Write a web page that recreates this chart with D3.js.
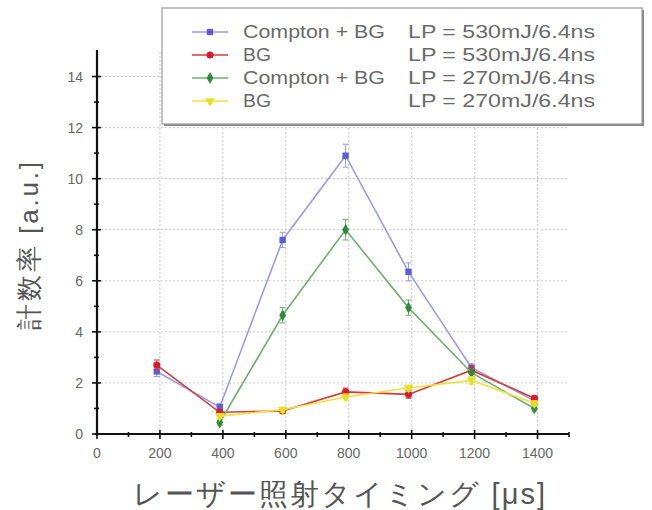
<!DOCTYPE html>
<html>
<head>
<meta charset="utf-8">
<script src="https://cdn.jsdelivr.net/npm/d3@7"></script>
<style>
  body { margin: 0; background: #fff; }
  svg { display: block; }
  text { font-family: "Liberation Sans", Arial, sans-serif; }
</style>
</head>
<body>
<svg id="chart" width="652" height="510"></svg>
<script>
// Laser timing (µs) at which each count was taken
const timings = [190, 390, 590, 790, 990, 1190, 1390];

// Count rates [a.u.] and their error bars
const comptonHigh = [2.45, 1.05, 7.6, 10.9, 6.35, 2.6, 1.3];
const comptonHighErr = [0.2, 0.15, 0.3, 0.45, 0.35, 0.15, 0.15];
const bgHigh = [2.7, 0.85, 0.9, 1.65, 1.55, 2.5, 1.4];
const bgHighErr = [0.2, 0.1, 0.1, 0.15, 0.15, 0.15, 0.1];
const comptonLow = [null, 0.45, 4.65, 8.0, 4.95, 2.4, 1.0];
const comptonLowErr = [0, 0.1, 0.3, 0.4, 0.3, 0.15, 0.1];
const bgLow = [null, 0.7, 0.95, 1.45, 1.8, 2.1, 1.2];
const bgLowErr = [0, 0.1, 0.1, 0.12, 0.12, 0.15, 0.1];

const xTicks = [0, 200, 400, 600, 800, 1000, 1200, 1400];
const yTicks = [0, 2, 4, 6, 8, 10, 12, 14];

const seriesNames = ["Compton + BG", "BG", "Compton + BG", "BG"];
const seriesPower = ["LP = 530mJ/6.4ns", "LP = 530mJ/6.4ns", "LP = 270mJ/6.4ns", "LP = 270mJ/6.4ns"];

const series = [
  { name: seriesNames[0], power: seriesPower[0], values: comptonHigh, err: comptonHighErr,
    line: "#9a9ae8", mark: "#5c5cd6", shape: d3.symbolSquare },
  { name: seriesNames[1], power: seriesPower[1], values: bgHigh, err: bgHighErr,
    line: "#d83a3a", mark: "#d81c2c", shape: d3.symbolCircle },
  { name: seriesNames[2], power: seriesPower[2], values: comptonLow, err: comptonLowErr,
    line: "#6fae6f", mark: "#2f8a3a", shape: d3.symbolDiamond },
  { name: seriesNames[3], power: seriesPower[3], values: bgLow, err: bgLowErr,
    line: "#f0e040", mark: "#e6e020", shape: d3.symbolTriangle, flip: true }
];

const svg = d3.select("#chart");
const x = d3.scaleLinear().domain([0, 1500]).range([97, 569]);
const y = d3.scaleLinear().domain([0, 15]).range([434, 51]);

// dotted grid at major ticks
const grid = svg.append("g");
grid.selectAll(".gx").data(xTicks.filter(d => d > 0)).enter().append("line")
  .attr("x1", d => x(d)).attr("x2", d => x(d)).attr("y1", y(0)).attr("y2", y(15))
  .attr("stroke", "#c8c8c8").attr("stroke-width", 1).attr("stroke-dasharray", "2,2");
grid.selectAll(".gy").data(yTicks.filter(d => d > 0)).enter().append("line")
  .attr("x1", x(0)).attr("x2", x(1500)).attr("y1", d => y(d)).attr("y2", d => y(d))
  .attr("stroke", "#c8c8c8").attr("stroke-width", 1).attr("stroke-dasharray", "2,2");

// series lines, error bars and markers
series.forEach(s => {
  const pts = timings.map((t, i) => ({ t, v: s.values[i], e: s.err[i] })).filter(p => p.v !== null);
  const line = d3.line().x(p => x(p.t)).y(p => y(p.v));
  svg.append("path").datum(pts).attr("d", line)
    .attr("fill", "none").attr("stroke", s.line).attr("stroke-width", 1.6);
  const eb = svg.append("g").attr("stroke", s.line).attr("stroke-width", 1);
  pts.forEach(p => {
    eb.append("line").attr("x1", x(p.t)).attr("x2", x(p.t))
      .attr("y1", y(p.v - p.e)).attr("y2", y(p.v + p.e));
    [p.v - p.e, p.v + p.e].forEach(v => eb.append("line")
      .attr("x1", x(p.t) - 3).attr("x2", x(p.t) + 3).attr("y1", y(v)).attr("y2", y(v)));
  });
  svg.append("g").selectAll("path").data(pts).enter().append("path")
    .attr("d", d3.symbol().type(s.shape).size(40))
    .attr("transform", p => `translate(${x(p.t)},${y(p.v)})${s.flip ? " rotate(180)" : ""}`)
    .attr("fill", s.mark);
});

// axes
const xAxis = svg.append("g").attr("transform", `translate(0,${y(0)})`);
xAxis.append("line").attr("x1", x(0) - 2).attr("x2", x(1500)).attr("y1", 0).attr("y2", 0)
  .attr("stroke", "#111").attr("stroke-width", 2.2);
xAxis.selectAll(".mt").data(d3.range(0, 1501, 100)).enter().append("line")
  .attr("x1", d => x(d)).attr("x2", d => x(d))
  .attr("y1", d => d % 200 === 0 ? -4 : -2).attr("y2", d => d % 200 === 0 ? 5 : 3)
  .attr("stroke", "#111").attr("stroke-width", 1.6);
xAxis.selectAll("text").data(xTicks).enter().append("text")
  .attr("x", d => x(d)).attr("y", 24).attr("text-anchor", "middle")
  .attr("font-size", 14).attr("fill", "#666")
  .style("font-stretch", "condensed").text(d => d);

const yAxis = svg.append("g").attr("transform", `translate(${x(0)},0)`);
yAxis.append("line").attr("x1", 0).attr("x2", 0).attr("y1", y(0) + 2).attr("y2", y(15) - 1)
  .attr("stroke", "#111").attr("stroke-width", 2.2);
yAxis.selectAll(".mt").data(d3.range(0, 15, 1)).enter().append("line")
  .attr("x1", d => d % 2 === 0 ? -5 : -3).attr("x2", d => d % 2 === 0 ? 4 : 2)
  .attr("y1", d => y(d)).attr("y2", d => y(d))
  .attr("stroke", "#111").attr("stroke-width", 1.6);
yAxis.selectAll("text").data(yTicks).enter().append("text")
  .attr("x", -14).attr("y", d => y(d) + 5).attr("text-anchor", "end")
  .attr("font-size", 14).attr("fill", "#666").text(d => d);

// axis titles
svg.append("text").attr("x", 133).attr("y", 504)
  .attr("font-size", 29).attr("fill", "#555")
  .attr("font-family", "Noto Sans CJK JP")
  .attr("textLength", 412).attr("lengthAdjust", "spacing")
  .text("レーザー照射タイミング [μs]");
svg.append("text").attr("transform", "translate(38,330) rotate(-90)")
  .attr("font-size", 26).attr("fill", "#555")
  .attr("font-family", "Noto Sans CJK JP")
  .attr("textLength", 168).attr("lengthAdjust", "spacing")
  .text("計数率 [a.u.]");

// legend
const lg = svg.append("g");
lg.append("rect").attr("x", 164).attr("y", 10).attr("width", 480).attr("height", 116)
  .attr("fill", "#888");
lg.append("rect").attr("x", 162).attr("y", 8).attr("width", 480).attr("height", 116)
  .attr("fill", "#fff").attr("stroke", "#999").attr("stroke-width", 1.2);
series.forEach((s, i) => {
  const cy = 32 + i * 23;
  lg.append("line").attr("x1", 192).attr("x2", 228).attr("y1", cy).attr("y2", cy)
    .attr("stroke", s.line).attr("stroke-width", 1.6);
  lg.append("path").attr("d", d3.symbol().type(s.shape).size(40))
    .attr("transform", `translate(210,${cy})${s.flip ? " rotate(180)" : ""}`)
    .attr("fill", s.mark);
  lg.append("text").attr("x", 243).attr("y", cy + 6).attr("font-size", 18)
    .attr("fill", "#6a6a6a")
    .attr("textLength", s.name.length > 3 ? 142 : 28).attr("lengthAdjust", "spacingAndGlyphs")
    .text(s.name);
  lg.append("text").attr("x", 408).attr("y", cy + 6).attr("font-size", 18)
    .attr("fill", "#6a6a6a")
    .attr("textLength", 187).attr("lengthAdjust", "spacingAndGlyphs")
    .text(s.power);
});
</script>
</body>
</html>
